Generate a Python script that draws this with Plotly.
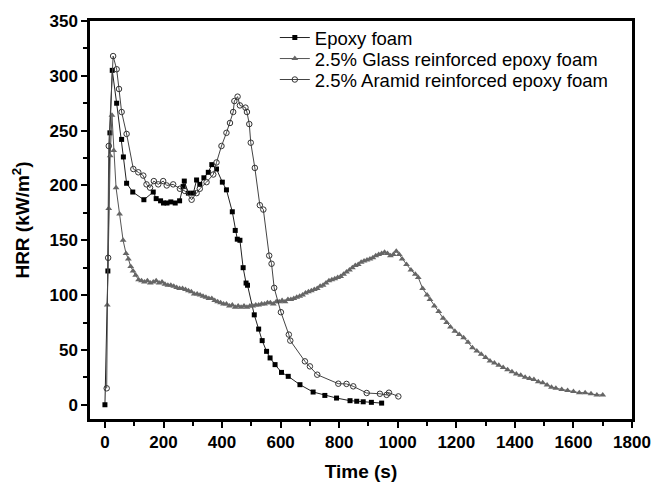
import plotly.graph_objects as go

# Epoxy foam
epoxy_t = [0, 10, 17, 25, 40, 57, 63, 74, 95, 133, 165, 175, 190, 200, 212, 225, 240, 255, 267, 271, 285, 302, 313, 324, 338, 353, 365, 381, 401, 415, 435, 445, 452, 461, 472, 482, 487, 510, 525, 537, 552, 564, 581, 603, 626, 666, 711, 751, 791, 837, 860, 882, 910, 945]
epoxy_v = [0, 122, 248, 305, 275, 242, 226, 202, 194, 187, 194, 188, 186, 184, 184, 185, 184, 186, 199, 204, 193, 193, 205, 201, 207, 212, 219, 215, 203, 196, 176, 159, 151, 150, 125, 111, 109, 82, 69, 58.5, 48.7, 42.7, 36.6, 29.5, 25.9, 18.3, 11.6, 8.5, 6.1, 3.7, 3.2, 2.7, 2.2, 1.5]

# 2.5% Glass reinforced epoxy foam
glass_t = [8, 13, 18, 24, 30, 38, 50, 62, 72, 80, 88, 96, 105, 115, 125, 135, 145, 155, 165, 175, 185, 195, 205, 215, 225, 235, 245, 255, 265, 275, 285, 295, 305, 315, 325, 335, 345, 355, 365, 375, 385, 395, 405, 415, 425, 435, 445, 455, 465, 475, 485, 495, 505, 515, 525, 535, 545, 555, 565, 575, 585, 595, 605, 615, 625, 635, 645, 655, 665, 675, 685, 695, 705, 715, 725, 735, 745, 755, 765, 775, 785, 795, 805, 815, 825, 835, 845, 855, 865, 875, 885, 895, 905, 915, 925, 935, 945, 955, 965, 975, 985, 995, 1005, 1015, 1030, 1045, 1060, 1070, 1085, 1100, 1110, 1125, 1140, 1155, 1167, 1180, 1195, 1210, 1225, 1240, 1255, 1270, 1285, 1300, 1315, 1330, 1345, 1360, 1375, 1390, 1405, 1420, 1435, 1450, 1465, 1480, 1495, 1510, 1525, 1540, 1560, 1580, 1600, 1620, 1640, 1660, 1680, 1700]
glass_v = [91, 179, 227, 264, 232, 198, 174, 150, 138, 133, 126, 122, 118, 114, 113, 112, 113, 111, 112, 113, 111, 112, 110, 109, 109, 108, 107, 106, 106, 105, 104, 103, 101, 101, 100, 99, 98, 97, 97, 95, 94, 93, 92, 92, 90, 91, 89, 90, 89, 90, 89, 90, 90, 91, 91, 92, 92, 93, 93, 92, 94, 94, 95, 94, 96, 96, 97, 98, 99, 100, 102, 103, 104, 105, 106, 108, 109, 111, 113, 114, 115, 116, 117, 119, 121, 123, 125, 127, 128, 130, 131, 132, 133, 134, 136, 137, 138, 139, 138, 136, 137, 140, 137, 133, 128, 123, 119, 116, 106, 100, 96, 90, 85, 79, 75, 71, 67, 64, 61, 57, 52, 49, 46, 43, 40, 38, 36, 34, 32, 30, 28, 27, 25, 24, 23, 21, 20, 18, 16, 15, 14, 13, 12, 11, 11, 10, 9, 9]

# 2.5% Aramid reinforced epoxy foam
aramid_t = [6, 11, 13, 28, 40, 48, 57, 74, 97, 114, 131, 142, 154, 167, 182, 199, 211, 233, 256, 273, 296, 313, 324, 347, 370, 381, 398, 415, 427, 438, 442, 453, 461, 480, 485, 493, 498, 512, 529, 541, 561, 569, 578, 601, 628, 633, 683, 700, 725, 797, 825, 848, 894, 939, 962, 970, 1002]
aramid_v = [15, 134, 236, 318, 306, 288, 267, 247, 215, 212, 209, 201, 198, 204, 201, 204, 200, 201, 197, 195, 187, 193, 197, 203, 210, 221, 236, 248, 257, 267, 277, 281, 273, 271, 267, 256, 239, 216, 182, 178, 136, 128.6, 106.6, 84.4, 64, 58.5, 39.6, 35, 27.4, 19.2, 19, 16.8, 10.7, 10, 9, 11, 7.6]

x_ticks = [0, 200, 400, 600, 800, 1000, 1200, 1400, 1600, 1800]
y_ticks = [0, 50, 100, 150, 200, 250, 300, 350]

FONT = "Liberation Sans, Arial, sans-serif"

fig = go.Figure()
fig.add_trace(go.Scatter(
    x=epoxy_t, y=epoxy_v, mode="lines+markers", name="Epoxy foam", legend="legend",
    line=dict(color="#222222", width=1),
    marker=dict(symbol="square", size=5, color="#000000"),
))
fig.add_trace(go.Scatter(
    x=glass_t, y=glass_v, mode="lines+markers", name="2.5% Glass reinforced epoxy foam", legend="legend2",
    line=dict(color="#555555", width=1),
    marker=dict(symbol="triangle-up", size=6, color="#666666"),
))
fig.add_trace(go.Scatter(
    x=aramid_t, y=aramid_v, mode="lines+markers", name="2.5% Aramid reinforced epoxy foam", legend="legend3",
    line=dict(color="#444444", width=1),
    marker=dict(symbol="circle-open", size=5.5, color="#333333", line=dict(width=1)),
))

leg_common = dict(x=0.341, xanchor="left", yanchor="middle", bgcolor="rgba(0,0,0,0)",
                  font=dict(size=18.5, family=FONT), itemwidth=30)

fig.update_layout(
    width=652, height=482,
    margin=dict(l=90, r=20, t=21, b=63),
    paper_bgcolor="white", plot_bgcolor="white",
    font=dict(family=FONT, color="black"),
    showlegend=True,
    legend=dict(y=0.9573, **leg_common),
    legend2=dict(y=0.9045, **leg_common),
    legend3=dict(y=0.8518, **leg_common),
    xaxis=dict(
        range=[-51, 1800], tickvals=x_ticks, ticktext=[f"<b>{v}</b>" for v in x_ticks],
        ticks="outside", ticklen=6, tickwidth=2, tickcolor="black",
        minor=dict(dtick=100, tick0=0, ticks="outside", ticklen=4, tickwidth=2, tickcolor="black"),
        showline=True, linewidth=2.5, linecolor="black", mirror=True,
        showgrid=False, zeroline=False, automargin=False,
        tickfont=dict(size=17, family=FONT),
        title=dict(text="<b>Time (s)</b>", font=dict(size=19, family=FONT)),
    ),
    yaxis=dict(
        range=[-13, 350], tickvals=y_ticks, ticktext=[f"<b>{v}</b>" for v in y_ticks],
        ticks="outside", ticklen=6, tickwidth=2, tickcolor="black",
        minor=dict(dtick=25, tick0=0, ticks="outside", ticklen=4, tickwidth=2, tickcolor="black"),
        showline=True, linewidth=2.5, linecolor="black", mirror=True,
        showgrid=False, zeroline=False, automargin=False,
        tickfont=dict(size=17, family=FONT),
        title=dict(text="<b>HRR (kW/m<sup>2</sup>)</b>", font=dict(size=19, family=FONT)),
    ),
)

fig.write_html("out.html")
